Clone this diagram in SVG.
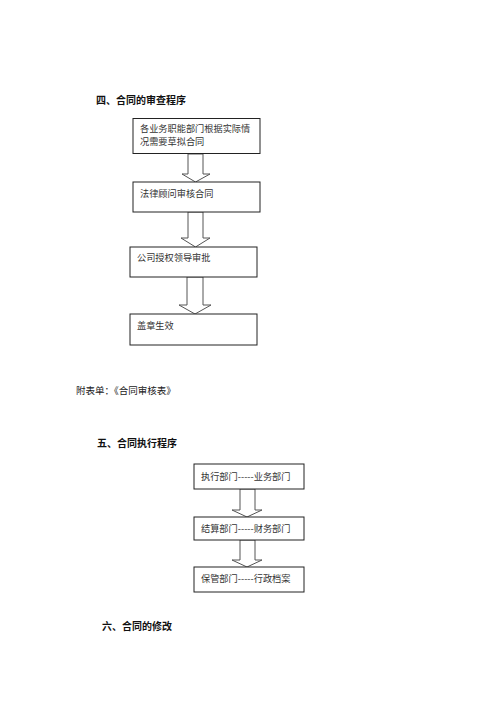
<svg xmlns="http://www.w3.org/2000/svg" width="500" height="707" viewBox="0 0 500 707">
<style>
.bg{fill:#ffffff}
.box{fill:#ffffff;stroke:#222;stroke-width:1}
.arr{fill:#ffffff;stroke:#555;stroke-width:1}
.h{font-family:"Noto Sans CJK SC","Liberation Sans",sans-serif;font-weight:bold;font-size:10px;fill:#111}
.p{font-family:"Noto Sans CJK SC","Liberation Sans",sans-serif;font-size:9.5px;fill:#222}
.t{font-family:"Noto Sans CJK SC","Liberation Serif",serif;font-size:9.2px;fill:#333}
</style>
<rect class="bg" x="0" y="0" width="500" height="707"/>
<text class="h" x="96" y="104">四、合同的审查程序</text>
<g id="connectors">
<polygon class="arr" points="188,154 203,154 203,174 210,174 195.5,182 182,174 188,174"/>
<polygon class="arr" points="188,212 203,212 203,238 210,238 195.5,247 181,238 188,238"/>
<polygon class="arr" points="187,277 203,277 203,305 211,305 195,314 179,305 187,305"/>
<polygon class="arr" points="240,489 255,489 255,510 262,510 247,517 232,510 240,510"/>
<polygon class="arr" points="240,540 255,540 255,560 262,560 247,567 232,560 240,560"/>
</g>
<g id="n1"><rect class="box" x="133" y="118.5" width="127" height="35"/>
<text class="t" x="140" y="131.5">各业务职能部门根据实际情</text>
<text class="t" x="140" y="145">况需要草拟合同</text></g>
<g id="n2"><rect class="box" x="133" y="182" width="127" height="30"/>
<text class="t" x="140" y="196.5">法律顾问审核合同</text></g>
<g id="n3"><rect class="box" x="130" y="247" width="127" height="30"/>
<text class="t" x="137" y="260.5">公司授权领导审批</text></g>
<g id="n4"><rect class="box" x="130" y="314" width="127" height="31"/>
<text class="t" x="137" y="328.5">盖章生效</text></g>
<text class="p" x="76" y="393.5">附表单：《合同审核表》</text>
<text class="h" x="97" y="446.5">五、合同执行程序</text>
<g id="m1"><rect class="box" x="194" y="464" width="110" height="25"/>
<text class="t" x="201" y="479.5">执行部门-----业务部门</text></g>
<g id="m2"><rect class="box" x="194" y="517" width="110" height="23"/>
<text class="t" x="201" y="532">结算部门-----财务部门</text></g>
<g id="m3"><rect class="box" x="194" y="567" width="110" height="25"/>
<text class="t" x="201" y="581.5">保管部门-----行政档案</text></g>
<text class="h" x="102" y="629.5">六、合同的修改</text>
</svg>
